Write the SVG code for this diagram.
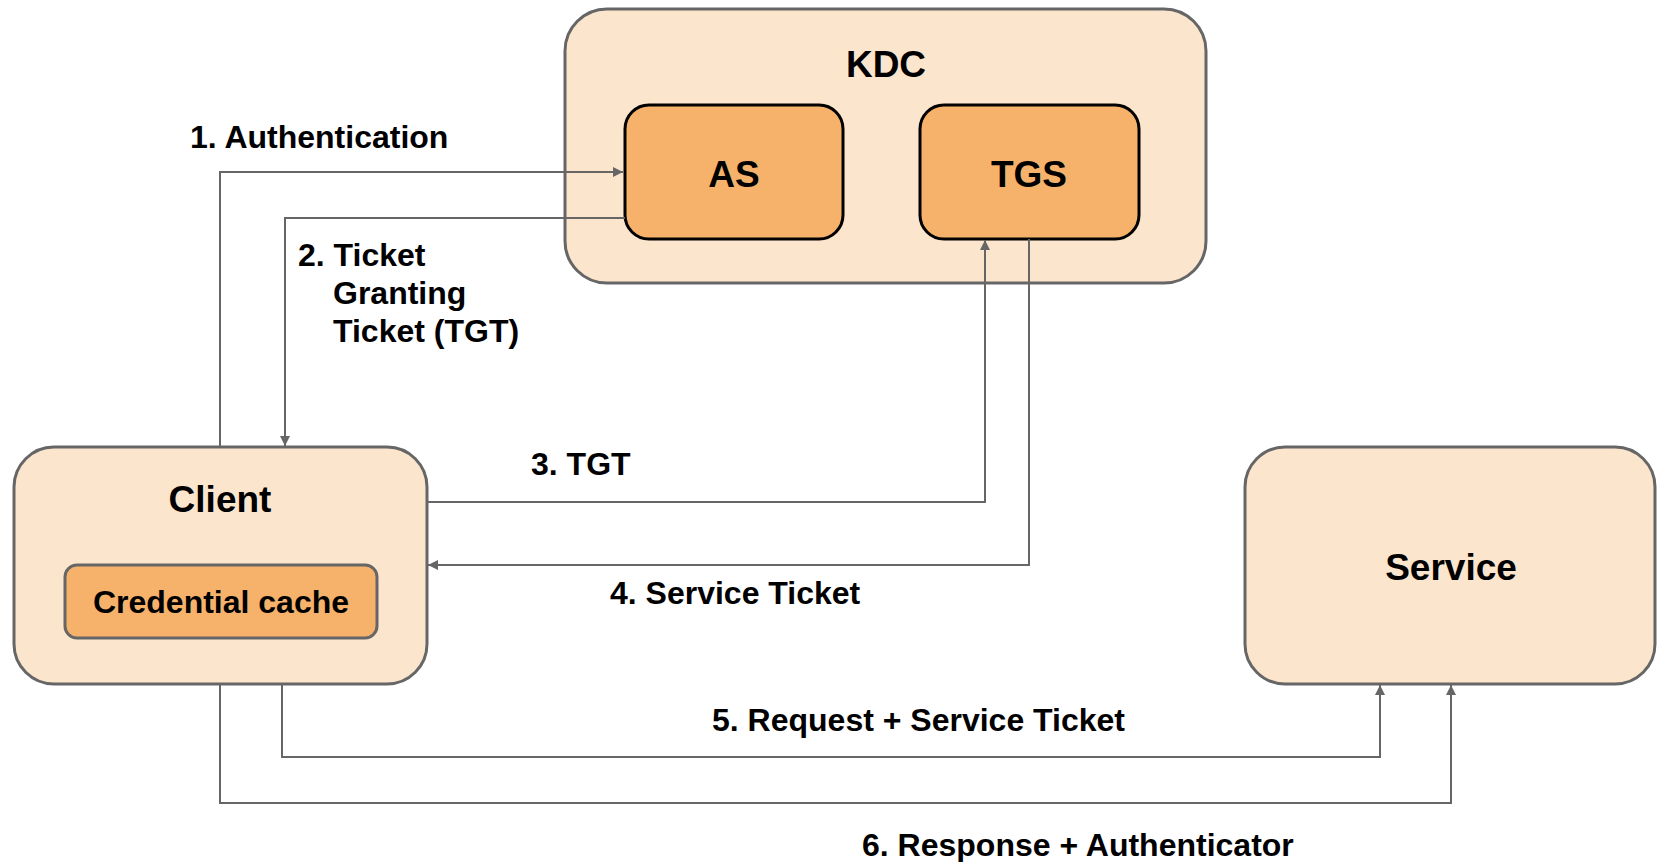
<svg xmlns="http://www.w3.org/2000/svg" width="1657" height="862" viewBox="0 0 1657 862">
<defs>
<style>
.outer{fill:#fce5cd;stroke:#666;stroke-width:3}
.inner{fill:#f6b26b;stroke:#000;stroke-width:3}
.cache{fill:#f6b26b;stroke:#666;stroke-width:3}
.title{font-family:"Liberation Sans",Arial,sans-serif;font-weight:bold;font-size:37px;fill:#000;text-anchor:middle}
.lbl{font-family:"Liberation Sans",Arial,sans-serif;font-weight:bold;font-size:32px;fill:#000}
.conn{fill:none;stroke:#666;stroke-width:2}
</style>
<marker id="arr" viewBox="0 0 10 10" refX="10" refY="5" markerWidth="10" markerHeight="10" markerUnits="userSpaceOnUse" orient="auto">
<path d="M0,0 L10,5 L0,10 z" fill="#666"/>
</marker>
</defs>
<rect width="1657" height="862" fill="#fff"/>
<g id="kdc">
<rect class="outer" x="565" y="9" width="641" height="274" rx="42"/>
<text class="title" x="886" y="77">KDC</text>
</g>
<g id="as">
<rect class="inner" x="625" y="105" width="218" height="134" rx="24"/>
<text class="title" x="734" y="187">AS</text>
</g>
<g id="tgs">
<rect class="inner" x="920" y="105" width="219" height="134" rx="24"/>
<text class="title" x="1029" y="187">TGS</text>
</g>
<g id="client">
<rect class="outer" x="14" y="447" width="413" height="237" rx="40"/>
<text class="title" x="220" y="512">Client</text>
</g>
<g id="cache">
<rect class="cache" x="65" y="565" width="312" height="73" rx="12"/>
<text class="title" x="221" y="613" style="font-size:32px">Credential cache</text>
</g>
<g id="service">
<rect class="outer" x="1245" y="447" width="410" height="237" rx="40"/>
<text class="title" x="1451" y="580">Service</text>
</g>
<g id="connectors">
<path class="conn" d="M220 447 V172 H623" marker-end="url(#arr)"/>
<path class="conn" d="M625 218 H285 V446" marker-end="url(#arr)"/>
<path class="conn" d="M427 502 H985 V240" marker-end="url(#arr)"/>
<path class="conn" d="M1029 239 V565 H428" marker-end="url(#arr)"/>
<path class="conn" d="M282 684 V757 H1380 V685" marker-end="url(#arr)"/>
<path class="conn" d="M220 684 V803 H1451 V685" marker-end="url(#arr)"/>
</g>
<g id="labels">
<text class="lbl" x="190" y="148">1. Authentication</text>
<text class="lbl" x="298" y="266">2. Ticket</text>
<text class="lbl" x="333" y="304">Granting</text>
<text class="lbl" x="333" y="342">Ticket (TGT)</text>
<text class="lbl" x="531" y="475">3. TGT</text>
<text class="lbl" x="610" y="604">4. Service Ticket</text>
<text class="lbl" x="712" y="731">5. Request + Service Ticket</text>
<text class="lbl" x="862" y="856">6. Response + Authenticator</text>
</g>
</svg>
